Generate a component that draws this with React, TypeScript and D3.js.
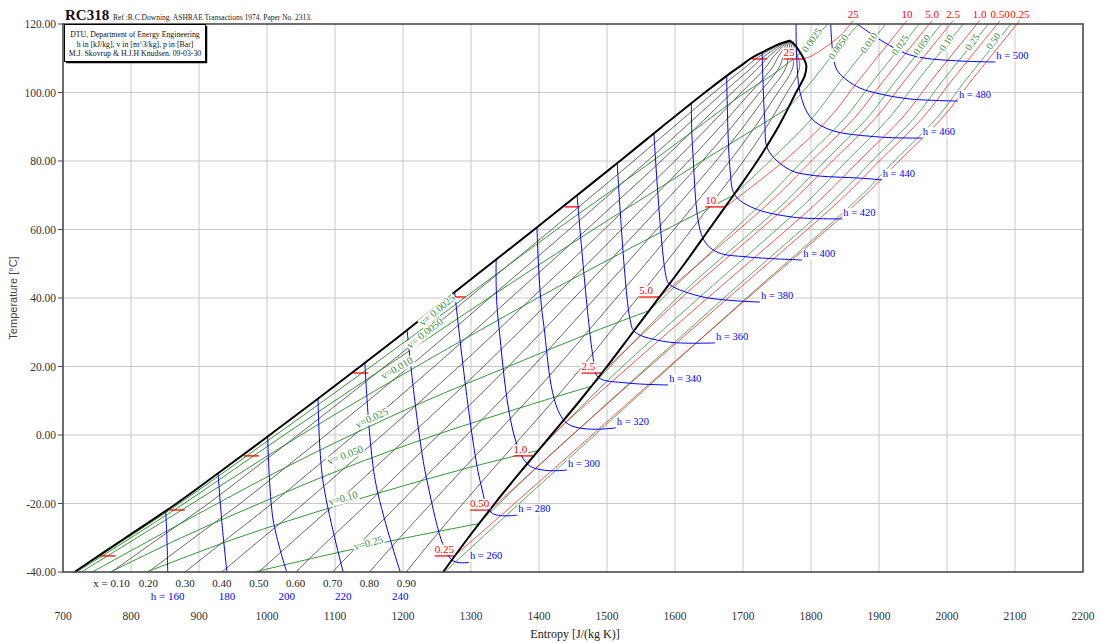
import React from "react";
import * as d3 from "d3";

type Pt = [number, number]; // [entropy J/(kg K), temperature °C]

const sTicks = [700, 800, 900, 1000, 1100, 1200, 1300, 1400, 1500, 1600, 1700, 1800, 1900, 2000, 2100, 2200];
const tTicks = [-40, -20, 0, 20, 40, 60, 80, 100, 120];

// saturation dome
const satT = [-40, -30, -20, -10, 0, 10, 20, 30, 40, 50, 60, 70, 80, 90, 100, 105, 108, 110, 112, 114, 115.2];
const satLiqS = [717, 792, 867, 936, 1004, 1071, 1137, 1202, 1265, 1329, 1393, 1456, 1519, 1581, 1644, 1677, 1698, 1712, 1731, 1751, 1769];
const satVapS = [1259, 1296, 1335, 1376, 1418, 1460, 1500, 1538, 1576, 1614, 1650, 1686, 1721, 1752, 1778, 1791, 1793, 1789, 1783, 1776, 1769];

const qualities = [0.1, 0.2, 0.3, 0.4, 0.5, 0.6, 0.7, 0.8, 0.9];
const qualityNames = ["x = 0.10", "0.20", "0.30", "0.40", "0.50", "0.60", "0.70", "0.80", "0.90"];

// isobars, bar
const isobarNames = ["0.25", "0.50", "1.0", "2.5", "5.0", "10", "25"];
const isobarTsat = [-35.3, -21.9, -6.1, 18.1, 40.3, 66.6, 109.8];
const isobarLiqS = [752, 854, 963, 1124, 1267, 1435, 1710];
const isobarVapS = [1276, 1328, 1392, 1492, 1577, 1674, 1789];
const isobarGas: Pt[][] = [
  [[1276, -35.3], [1364, -20], [1478, 0], [1580, 18], [1707, 40], [1872, 68.6], [1931, 80.3], [1994, 92.8], [2034, 103], [2107, 121]],
  [[1328, -21.9], [1449, 0], [1551, 18], [1678, 40], [1843, 68.6], [1902, 80.3], [1965, 92.8], [2005, 103], [2078, 121]],
  [[1392, -6.1], [1420, 0], [1521, 18], [1648, 40], [1813, 68.6], [1872, 80.3], [1935, 92.8], [1975, 103], [2048, 121]],
  [[1492, 18.1], [1609, 40], [1774, 68.6], [1833, 80.3], [1896, 92.8], [1936, 103], [2009, 121]],
  [[1577, 40.3], [1743, 68.6], [1802, 80.3], [1865, 92.8], [1905, 103], [1978, 121]],
  [[1674, 66.6], [1762, 80.3], [1828, 92.8], [1868, 103], [1941, 121]],
  [[1789, 109.8], [1802, 110.8], [1843, 116.6], [1862, 121]],
];

// isochores, m^3/kg
const isochoreNames = ["0.0025", "0.0050", "0.010", "0.025", "0.050", "0.10", "0.25", "0.50"];
const isochoreWetNames = ["v= 0.0025", "v= 0.0050", "v=0.010", "v=0.025", "v= 0.050", "v=0.10", "v=0.25"];
const isochoreWet: Pt[][] = [
  [[717, -40], [871, -20], [1013, 0], [1153, 20], [1290, 40], [1426, 60], [1497, 70], [1567, 80], [1635, 90], [1703, 100], [1742, 105], [1775, 110], [1784, 111.5]],
  [[720, -40], [878, -20], [1025, 0], [1175, 20], [1326, 40], [1480, 60], [1560, 70], [1640, 80], [1722, 90], [1767, 95.6]],
  [[727, -40], [890, -20], [1050, 0], [1220, 20], [1308, 30], [1398, 40], [1491, 50], [1587, 60], [1686, 70]],
  [[743, -40], [927, -20], [1022, -10], [1124, 0], [1234, 10], [1355, 20], [1478, 30], [1562, 36.3]],
  [[770, -40], [874, -30], [989, -20], [1110, -10], [1248, 0], [1406, 10], [1478, 14.3]],
  [[823, -40], [957, -30], [1113, -20], [1288, -10], [1399, -4.5]],
  [[982, -40], [1089, -35], [1205, -30], [1311, -25.9]],
];
const isochoreGas: Pt[][] = [
  [[1784, 111.5], [1802, 115.3], [1825, 120]],
  [[1767, 95.6], [1800, 103], [1841, 113.3], [1870, 120]],
  [[1686, 70], [1741, 80.3], [1803, 92.8], [1842, 103], [1910, 120]],
  [[1562, 36.3], [1732, 68.6], [1789, 80.3], [1851, 92.8], [1890, 103], [1959, 120]],
  [[1478, 14.3], [1603, 40], [1765, 68.6], [1822, 80.3], [1884, 92.8], [1923, 103], [1992, 120]],
  [[1399, -4.5], [1512, 18], [1635, 40], [1797, 68.6], [1854, 80.3], [1916, 92.8], [1955, 103], [2024, 120]],
  [[1311, -25.9], [1394, -10], [1449, 0], [1549, 18], [1672, 40], [1834, 68.6], [1891, 80.3], [1953, 92.8], [1992, 103], [2061, 120]],
  [[1261, -40], [1371, -20], [1482, 0], [1582, 18], [1705, 40], [1867, 68.6], [1924, 80.3], [1986, 92.8], [2025, 103], [2094, 120]],
];
const isochoreWetLabelAt: Pt[] = [[1250, 36.5], [1232, 29.8], [1191, 19.6], [1154, 5], [1115, -5.8], [1112, -18.4], [1149, -31.5]];
const isochoreWetLabelAngle = [-40, -38, -30, -25, -20, -15, -15];
const isochoreGasLabelAt: Pt[] = [[1801, 115.3], [1840, 113.3], [1885, 114.5], [1931, 113.9], [1963, 113.9], [1999, 114.5], [2037, 114.7], [2068, 115]];

// isenthalps, kJ/kg
const enthalpyNames = [160, 180, 200, 220, 240, 260, 280, 300, 320, 340, 360, 380, 400, 420, 440, 460, 480, 500];
const enthalpyLines: Pt[][] = [
  [[851, -22.1], [853, -31], [854, -40]],
  [[928, -11.2], [934, -26.3], [941, -40]],
  [[1001, -0.4], [1009, -24.8], [1029, -40]],
  [[1075, 10.6], [1082, -13.1], [1112, -40]],
  [[1144, 21.1], [1159, -13.1], [1196, -40]],
  [[1206, 30.6], [1235, -13.1], [1272, -36.5], [1297, -37.2]],
  [[1276, 41.7], [1313, -13.1], [1331, -22.8], [1368, -23.4]],
  [[1337, 51.2], [1340, 33.6], [1383, -8.5], [1441, -10.2]],
  [[1397, 60.6], [1406, 33.6], [1440, 3.6], [1513, 2.1]],
  [[1456, 70], [1479, 23.4], [1487, 16.9], [1529, 15.2], [1590, 14.6]],
  [[1515, 79.4], [1534, 33.6], [1541, 30.1], [1588, 27.2], [1659, 26.9]],
  [[1569, 88], [1588, 45.3], [1593, 43.8], [1641, 40.3], [1725, 38.8]],
  [[1624, 96.8], [1626, 83.2], [1641, 57.5], [1662, 53.4], [1706, 52], [1787, 51.1]],
  [[1676, 104.9], [1681, 77.4], [1688, 70.1], [1715, 66.3], [1774, 63.6], [1846, 63.1]],
  [[1728, 111.8], [1732, 92], [1737, 83.2], [1769, 77.4], [1799, 75.9], [1872, 75], [1904, 74.5]],
  [[1778, 120], [1779, 110.1], [1784, 99.9], [1799, 92.8], [1828, 89.1], [1901, 87], [1963, 86.7]],
  [[1829, 120], [1832, 111.8], [1838, 106.6], [1853, 103.6], [1872, 101.3], [1901, 99.6], [1946, 98.1], [2016, 97.5]],
  [[1868, 120], [1891, 116.8], [1909, 114.5], [1938, 111.5], [1965, 110.1], [2019, 109.2], [2071, 108.9]],
];

const RED = "#ff0000";
const GREEN = "#1f8a1f";
const BLUE = "#0000ff";

const charW = (c: string) => (c === "." || c === " " ? 0.25 : c === "=" ? 0.56 : 0.5);
const textW = (t: string, size: number) => t.split("").reduce((a, c) => a + charW(c), 0) * size;

const Label = ({ x, y, text, size, color, anchor = "start", angle = 0, center = false, bg = true }: any) => {
  const w = textW(text, size);
  const x0 = anchor === "middle" ? -w / 2 : anchor === "end" ? -w : 0;
  const dy = center ? size * 0.35 : 0;
  return (
    <g transform={`translate(${x},${y}) rotate(${angle}) translate(0,${dy})`}>
      {bg && <rect x={x0 - 1} y={-size * 0.75} width={w + 2} height={size * 0.95} fill="#fff" />}
      <text textAnchor={anchor} fontSize={size} fill={color}>
        {text}
      </text>
    </g>
  );
};

export default function App() {
  const x = d3.scaleLinear().domain([700, 2200]).range([63, 1083]);
  const y = d3.scaleLinear().domain([-40, 120]).range([572, 24]);
  const line = d3
    .line<Pt>()
    .x((d) => x(d[0]))
    .y((d) => y(d[1]))
    .curve(d3.curveCatmullRom.alpha(0.5));

  const liq: Pt[] = satT.map((t, i) => [satLiqS[i], t]);
  const vap: Pt[] = satT.map((t, i) => [satVapS[i], t]);
  const qLines: Pt[][] = qualities.map((q) =>
    satT.map((t, i) => [satLiqS[i] + q * (satVapS[i] - satLiqS[i]), t] as Pt)
  );

  return (
    <svg
      width={1101}
      height={643}
      style={{ position: "absolute", left: 0, top: 0, background: "#fff" }}
      fontFamily="'Liberation Serif', 'DejaVu Serif', serif"
    >
      {/* grid */}
      <g stroke="#c8c8c8" strokeWidth={1}>
        {sTicks.slice(1, -1).map((s) => (
          <line key={s} x1={x(s)} x2={x(s)} y1={y(120)} y2={y(-40)} />
        ))}
        {tTicks.slice(1, -1).map((t) => (
          <line key={t} x1={x(700)} x2={x(2200)} y1={y(t)} y2={y(t)} />
        ))}
      </g>

      {/* quality lines */}
      <g fill="none" stroke="#000" strokeWidth={0.7} strokeOpacity={0.85}>
        {qLines.map((d, i) => (
          <path key={i} d={line(d) || ""} />
        ))}
      </g>

      {/* isochores */}
      <g fill="none" stroke={GREEN} strokeWidth={0.9}>
        {isochoreWet.map((d, i) => (
          <path key={"w" + i} d={line(d) || ""} />
        ))}
        {isochoreGas.map((d, i) => (
          <path key={"g" + i} d={line(d) || ""} strokeOpacity={0.8} />
        ))}
      </g>

      {/* isobars */}
      <g fill="none" stroke={RED} strokeWidth={0.9}>
        {isobarGas.map((d, i) => (
          <path key={i} d={line(d) || ""} strokeOpacity={0.75} />
        ))}
        {isobarTsat.map((t, i) => (
          <g key={"t" + i} strokeWidth={1.3}>
            <line x1={x(isobarLiqS[i]) + 2} x2={x(isobarLiqS[i]) + 17} y1={y(t)} y2={y(t)} />
            <line x1={x(isobarVapS[i]) - 20} x2={x(isobarVapS[i])} y1={y(t)} y2={y(t)} />
          </g>
        ))}
      </g>

      {/* isenthalps */}
      <g fill="none" stroke={BLUE} strokeWidth={1}>
        {enthalpyLines.map((d, i) => (
          <path key={i} d={line(d) || ""} />
        ))}
      </g>

      {/* saturation lines */}
      <g fill="none" stroke="#000" strokeWidth={2}>
        <path d={line(liq) || ""} />
        <path d={line(vap) || ""} />
      </g>

      {/* labels on curves */}
      {isochoreWetNames.map((n, i) => (
        <Label
          key={n}
          x={x(isochoreWetLabelAt[i][0])}
          y={y(isochoreWetLabelAt[i][1])}
          text={n}
          size={10.5}
          color="#3d8f3d"
          anchor="middle"
          center
          angle={isochoreWetLabelAngle[i]}
        />
      ))}
      {isochoreNames.map((n, i) => (
        <Label
          key={n}
          x={x(isochoreGasLabelAt[i][0])}
          y={y(isochoreGasLabelAt[i][1])}
          text={n}
          size={10}
          color="#3d8f3d"
          anchor="middle"
          center
          angle={-55}
        />
      ))}
      {isobarNames.map((n, i) => (
        <Label key={"pv" + n} x={x(isobarVapS[i]) - 20} y={y(isobarTsat[i]) - 3} text={n} size={11} color={RED} />
      ))}
      {isobarNames.map((n, i) => {
        const last = isobarGas[i][isobarGas[i].length - 1];
        return <Label key={"pt" + n} x={x(last[0])} y={18} text={n} size={11} color={RED} anchor="middle" bg={false} />;
      })}
      {enthalpyNames.map((h, i) => {
        const pts = enthalpyLines[i];
        const last = pts[pts.length - 1];
        if (last[1] <= -40) {
          return (
            <Label key={h} x={x(last[0])} y={600} text={i === 0 ? `h = ${h}` : `${h}`} size={11} color={BLUE} anchor="middle" bg={false} />
          );
        }
        return <Label key={h} x={x(last[0]) + 1} y={y(last[1]) - 3} text={`h = ${h}`} size={10.5} color={BLUE} />;
      })}

      {/* frame */}
      <rect x={63} y={24} width={1020} height={548} fill="none" stroke="#4a4a4a" strokeWidth={1.6} />
      {tTicks.map((t) => (
        <line key={t} x1={58} x2={63} y1={y(t)} y2={y(t)} stroke="#4a4a4a" />
      ))}

      {/* quality labels */}
      {qualities.map((q, i) => (
        <text key={q} x={x(satLiqS[0] + q * (satVapS[0] - satLiqS[0]))} y={587} fontSize={11} textAnchor="middle" fill="#222">
          {qualityNames[i]}
        </text>
      ))}

      {/* axes text */}
      {tTicks.map((t) => (
        <text key={t} x={56} y={y(t) + 4} fontSize={11.5} textAnchor="end" fill="#333">
          {t.toFixed(2)}
        </text>
      ))}
      {sTicks.map((s) => (
        <text key={s} x={x(s)} y={620} fontSize={11.5} textAnchor="middle" fill="#333">
          {s}
        </text>
      ))}
      <text x={575} y={638} fontSize={12} textAnchor="middle" fill="#222">
        Entropy [J/(kg K)]
      </text>
      <text
        transform="translate(17,298) rotate(-90)"
        fontSize={11}
        textAnchor="middle"
        fill="#444"
        fontFamily="'Liberation Sans', Arial, sans-serif"
      >
        Temperature [°C]
      </text>

      {/* title & info box */}
      <text x={65} y={20} fontSize={15} fontWeight="bold" fill="#111">
        RC318
      </text>
      <text x={113} y={20} fontSize={7.5} fill="#222">
        Ref :R.C.Downing. ASHRAE Transactions 1974. Paper No. 2313.
      </text>
      <rect x={64.5} y={24.5} width={141} height={37} fill="#fff" stroke="#000" strokeWidth={1} />
      <line x1={206.5} x2={206.5} y1={26} y2={63} stroke="#000" strokeWidth={1.5} />
      <line x1={66} x2={207} y1={62.5} y2={62.5} stroke="#000" strokeWidth={1.5} />
      <g fontSize={7.8} textAnchor="middle" fill="#111">
        <text x={135} y={37}>DTU, Department of Energy Engineering</text>
        <text x={135} y={46.5}>h in [kJ/kg], v in [m^3/kg], p in [Bar]</text>
        <text x={135} y={56}>M.J. Skovrup &amp; H.J.H Knudsen. 09-03-30</text>
      </g>
    </svg>
  );
}
